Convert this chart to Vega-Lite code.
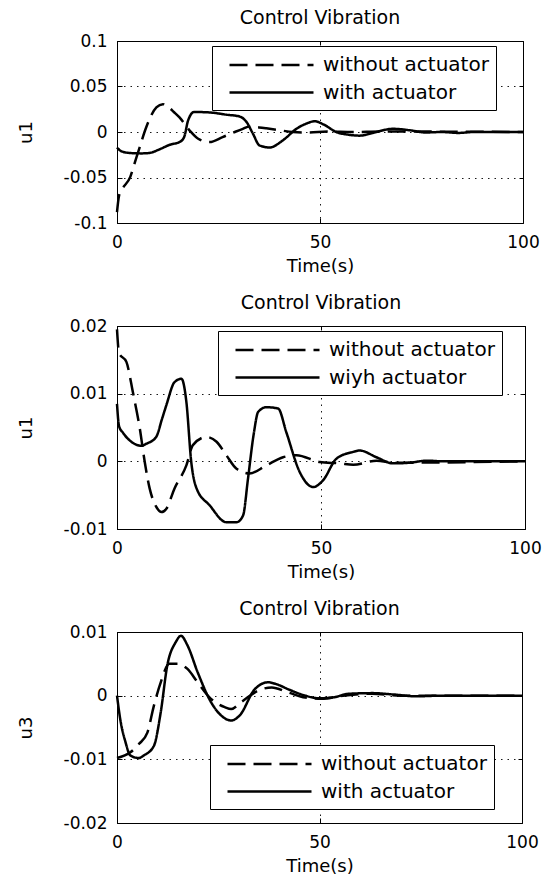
{
  "$schema": "https://vega.github.io/schema/vega-lite/v6.json",
  "background": "white",
  "padding": {"left": 16, "top": 8, "right": 20, "bottom": 5},
  "spacing": 17,
  "datasets": {
    "p1": [
      {"t": 0, "u": -0.017, "s": "with actuator"},
      {"t": 1, "u": -0.021, "s": "with actuator"},
      {"t": 3, "u": -0.023, "s": "with actuator"},
      {"t": 6, "u": -0.0235, "s": "with actuator"},
      {"t": 8, "u": -0.023, "s": "with actuator"},
      {"t": 10.5, "u": -0.019, "s": "with actuator"},
      {"t": 13, "u": -0.014, "s": "with actuator"},
      {"t": 15.4, "u": -0.011, "s": "with actuator"},
      {"t": 16.5, "u": -0.006, "s": "with actuator"},
      {"t": 17.5, "u": 0.0125, "s": "with actuator"},
      {"t": 19, "u": 0.022, "s": "with actuator"},
      {"t": 22.8, "u": 0.0215, "s": "with actuator"},
      {"t": 27, "u": 0.019, "s": "with actuator"},
      {"t": 30.2, "u": 0.017, "s": "with actuator"},
      {"t": 31.9, "u": 0.011, "s": "with actuator"},
      {"t": 33.5, "u": -0.002, "s": "with actuator"},
      {"t": 35.1, "u": -0.0147, "s": "with actuator"},
      {"t": 37.6, "u": -0.017, "s": "with actuator"},
      {"t": 40.9, "u": -0.009, "s": "with actuator"},
      {"t": 44.2, "u": 0.0035, "s": "with actuator"},
      {"t": 46.5, "u": 0.009, "s": "with actuator"},
      {"t": 48.7, "u": 0.0118, "s": "with actuator"},
      {"t": 51, "u": 0.008, "s": "with actuator"},
      {"t": 54, "u": 0.0, "s": "with actuator"},
      {"t": 57, "u": -0.003, "s": "with actuator"},
      {"t": 59.8, "u": -0.004, "s": "with actuator"},
      {"t": 63, "u": -0.001, "s": "with actuator"},
      {"t": 68, "u": 0.0035, "s": "with actuator"},
      {"t": 72, "u": 0.002, "s": "with actuator"},
      {"t": 76, "u": -0.0005, "s": "with actuator"},
      {"t": 80, "u": 0, "s": "with actuator"},
      {"t": 84, "u": -0.001, "s": "with actuator"},
      {"t": 88, "u": 0, "s": "with actuator"},
      {"t": 100, "u": 0, "s": "with actuator"},
      {"t": 0, "u": -0.088, "s": "without actuator"},
      {"t": 0.5, "u": -0.07, "s": "without actuator"},
      {"t": 1.1, "u": -0.064, "s": "without actuator"},
      {"t": 3.3, "u": -0.049, "s": "without actuator"},
      {"t": 4.5, "u": -0.032, "s": "without actuator"},
      {"t": 5.6, "u": -0.0165, "s": "without actuator"},
      {"t": 7.2, "u": 0.0052, "s": "without actuator"},
      {"t": 9.7, "u": 0.027, "s": "without actuator"},
      {"t": 11.3, "u": 0.0306, "s": "without actuator"},
      {"t": 12.5, "u": 0.028, "s": "without actuator"},
      {"t": 14, "u": 0.022, "s": "without actuator"},
      {"t": 15.4, "u": 0.016, "s": "without actuator"},
      {"t": 17.9, "u": 0.0016, "s": "without actuator"},
      {"t": 20, "u": -0.0074, "s": "without actuator"},
      {"t": 22.8, "u": -0.011, "s": "without actuator"},
      {"t": 26, "u": -0.0056, "s": "without actuator"},
      {"t": 29, "u": 0.0, "s": "without actuator"},
      {"t": 31, "u": 0.0035, "s": "without actuator"},
      {"t": 32.6, "u": 0.006, "s": "without actuator"},
      {"t": 35, "u": 0.005, "s": "without actuator"},
      {"t": 36.8, "u": 0.004, "s": "without actuator"},
      {"t": 40, "u": 0.002, "s": "without actuator"},
      {"t": 43.3, "u": 0.0, "s": "without actuator"},
      {"t": 47, "u": -0.0005, "s": "without actuator"},
      {"t": 52, "u": 0.0005, "s": "without actuator"},
      {"t": 58, "u": 0.0, "s": "without actuator"},
      {"t": 65, "u": 0.0005, "s": "without actuator"},
      {"t": 100, "u": 0, "s": "without actuator"}
    ],
    "p2": [
      {"t": 0, "u": 0.0085, "s": "wiyh actuator"},
      {"t": 0.5, "u": 0.0052, "s": "wiyh actuator"},
      {"t": 1.5, "u": 0.0042, "s": "wiyh actuator"},
      {"t": 3.1, "u": 0.0031, "s": "wiyh actuator"},
      {"t": 6, "u": 0.0023, "s": "wiyh actuator"},
      {"t": 7.2, "u": 0.0026, "s": "wiyh actuator"},
      {"t": 9.6, "u": 0.0036, "s": "wiyh actuator"},
      {"t": 11, "u": 0.0062, "s": "wiyh actuator"},
      {"t": 12.1, "u": 0.0083, "s": "wiyh actuator"},
      {"t": 14.1, "u": 0.0117, "s": "wiyh actuator"},
      {"t": 15.8, "u": 0.0122, "s": "wiyh actuator"},
      {"t": 17, "u": 0.0088, "s": "wiyh actuator"},
      {"t": 18.2, "u": -0.0001, "s": "wiyh actuator"},
      {"t": 19.5, "u": -0.004, "s": "wiyh actuator"},
      {"t": 22.7, "u": -0.0065, "s": "wiyh actuator"},
      {"t": 26.8, "u": -0.009, "s": "wiyh actuator"},
      {"t": 29.3, "u": -0.009, "s": "wiyh actuator"},
      {"t": 30.9, "u": -0.008, "s": "wiyh actuator"},
      {"t": 32.1, "u": -0.0026, "s": "wiyh actuator"},
      {"t": 33.5, "u": 0.004, "s": "wiyh actuator"},
      {"t": 34.6, "u": 0.0073, "s": "wiyh actuator"},
      {"t": 36.6, "u": 0.008, "s": "wiyh actuator"},
      {"t": 39.5, "u": 0.0078, "s": "wiyh actuator"},
      {"t": 41.5, "u": 0.0043, "s": "wiyh actuator"},
      {"t": 44.8, "u": -0.0016, "s": "wiyh actuator"},
      {"t": 48.1, "u": -0.0038, "s": "wiyh actuator"},
      {"t": 50.5, "u": -0.0028, "s": "wiyh actuator"},
      {"t": 53.8, "u": 0.0004, "s": "wiyh actuator"},
      {"t": 57.9, "u": 0.0014, "s": "wiyh actuator"},
      {"t": 59.5, "u": 0.0016, "s": "wiyh actuator"},
      {"t": 63.6, "u": 0.0006, "s": "wiyh actuator"},
      {"t": 67.7, "u": -0.0003, "s": "wiyh actuator"},
      {"t": 71.8, "u": -0.0002, "s": "wiyh actuator"},
      {"t": 75.9, "u": 0.0001, "s": "wiyh actuator"},
      {"t": 80, "u": 0, "s": "wiyh actuator"},
      {"t": 100, "u": 0, "s": "wiyh actuator"},
      {"t": 0, "u": 0.0195, "s": "without actuator"},
      {"t": 0.5, "u": 0.016, "s": "without actuator"},
      {"t": 2.3, "u": 0.0147, "s": "without actuator"},
      {"t": 3.9, "u": 0.0102, "s": "without actuator"},
      {"t": 5.6, "u": 0.0048, "s": "without actuator"},
      {"t": 6.8, "u": -0.0001, "s": "without actuator"},
      {"t": 8, "u": -0.004, "s": "without actuator"},
      {"t": 9.6, "u": -0.0067, "s": "without actuator"},
      {"t": 10.9, "u": -0.0075, "s": "without actuator"},
      {"t": 12.1, "u": -0.007, "s": "without actuator"},
      {"t": 14.1, "u": -0.004, "s": "without actuator"},
      {"t": 17, "u": -0.0006, "s": "without actuator"},
      {"t": 18.6, "u": 0.0024, "s": "without actuator"},
      {"t": 21.9, "u": 0.0036, "s": "without actuator"},
      {"t": 24.4, "u": 0.0029, "s": "without actuator"},
      {"t": 26.8, "u": 0.0009, "s": "without actuator"},
      {"t": 29.3, "u": -0.0011, "s": "without actuator"},
      {"t": 32.5, "u": -0.0018, "s": "without actuator"},
      {"t": 36.6, "u": -0.0006, "s": "without actuator"},
      {"t": 40.7, "u": 0.0006, "s": "without actuator"},
      {"t": 44, "u": 0.0009, "s": "without actuator"},
      {"t": 49.7, "u": -0.0001, "s": "without actuator"},
      {"t": 54.6, "u": -0.0003, "s": "without actuator"},
      {"t": 57.9, "u": -0.0005, "s": "without actuator"},
      {"t": 63.6, "u": 0.0001, "s": "without actuator"},
      {"t": 68, "u": -0.0002, "s": "without actuator"},
      {"t": 100, "u": 0, "s": "without actuator"}
    ],
    "p3": [
      {"t": 0, "u": 0, "s": "with actuator"},
      {"t": 0.8, "u": -0.0037, "s": "with actuator"},
      {"t": 2.1, "u": -0.0073, "s": "with actuator"},
      {"t": 3.3, "u": -0.0094, "s": "with actuator"},
      {"t": 5.4, "u": -0.0098, "s": "with actuator"},
      {"t": 6.6, "u": -0.0094, "s": "with actuator"},
      {"t": 9.1, "u": -0.0079, "s": "with actuator"},
      {"t": 10.8, "u": -0.0026, "s": "with actuator"},
      {"t": 12.4, "u": 0.0047, "s": "with actuator"},
      {"t": 14.5, "u": 0.0084, "s": "with actuator"},
      {"t": 15.8, "u": 0.0094, "s": "with actuator"},
      {"t": 17.4, "u": 0.0079, "s": "with actuator"},
      {"t": 19.9, "u": 0.0037, "s": "with actuator"},
      {"t": 23.2, "u": -0.001, "s": "with actuator"},
      {"t": 25.7, "u": -0.0031, "s": "with actuator"},
      {"t": 28.2, "u": -0.0039, "s": "with actuator"},
      {"t": 30.3, "u": -0.0031, "s": "with actuator"},
      {"t": 34, "u": 0.001, "s": "with actuator"},
      {"t": 37.3, "u": 0.0021, "s": "with actuator"},
      {"t": 39.4, "u": 0.0018, "s": "with actuator"},
      {"t": 42.3, "u": 0.001, "s": "with actuator"},
      {"t": 46.5, "u": 0, "s": "with actuator"},
      {"t": 49.8, "u": -0.0004, "s": "with actuator"},
      {"t": 53.1, "u": -0.0003, "s": "with actuator"},
      {"t": 57.3, "u": 0.0003, "s": "with actuator"},
      {"t": 63.1, "u": 0.0004, "s": "with actuator"},
      {"t": 68, "u": 0.0002, "s": "with actuator"},
      {"t": 73.9, "u": -0.0001, "s": "with actuator"},
      {"t": 80, "u": 0, "s": "with actuator"},
      {"t": 100, "u": 0, "s": "with actuator"},
      {"t": 0, "u": -0.0098, "s": "without actuator"},
      {"t": 3.3, "u": -0.0089, "s": "without actuator"},
      {"t": 5.4, "u": -0.0076, "s": "without actuator"},
      {"t": 7.5, "u": -0.0058, "s": "without actuator"},
      {"t": 9.1, "u": -0.0016, "s": "without actuator"},
      {"t": 10.8, "u": 0.0021, "s": "without actuator"},
      {"t": 12.9, "u": 0.005, "s": "without actuator"},
      {"t": 15, "u": 0.005, "s": "without actuator"},
      {"t": 17.4, "u": 0.0042, "s": "without actuator"},
      {"t": 19.9, "u": 0.0021, "s": "without actuator"},
      {"t": 23.2, "u": -0.0005, "s": "without actuator"},
      {"t": 26.6, "u": -0.0018, "s": "without actuator"},
      {"t": 28.2, "u": -0.0021, "s": "without actuator"},
      {"t": 30.7, "u": -0.001, "s": "without actuator"},
      {"t": 34.9, "u": 0.0008, "s": "without actuator"},
      {"t": 38.2, "u": 0.0013, "s": "without actuator"},
      {"t": 42.3, "u": 0.0005, "s": "without actuator"},
      {"t": 46.5, "u": -0.0003, "s": "without actuator"},
      {"t": 50.6, "u": -0.0005, "s": "without actuator"},
      {"t": 54.8, "u": -0.0001, "s": "without actuator"},
      {"t": 63, "u": 0.0003, "s": "without actuator"},
      {"t": 70, "u": 0, "s": "without actuator"},
      {"t": 100, "u": 0, "s": "without actuator"}
    ]
  },
  "resolve": {"scale": {"strokeDash": "independent"}, "legend": {"strokeDash": "independent"}},
  "config": {
    "font": "DejaVu Sans",
    "view": {"stroke": "black", "strokeWidth": 1},
    "axis": {
      "domain": false, "grid": true, "gridColor": "black", "gridDash": [1.5, 5], "gridWidth": 1, "gridOpacity": 0.9,
      "ticks": true, "tickColor": "black", "tickSize": -5,
      "labelFont": "DejaVu Sans", "labelFontSize": 17, "labelColor": "black",
      "titleFont": "DejaVu Sans", "titleFontSize": 18, "titleFontWeight": "normal", "titleColor": "black",
      "labelFlush": false, "labelOverlap": false, "labelBound": false
    },
    "axisX": {"labelPadding": 16, "titlePadding": 7},
    "axisY": {"labelPadding": 15},
    "title": {"font": "DejaVu Sans", "fontSize": 19, "fontWeight": "normal", "color": "black", "offset": 4},
    "legend": {
      "strokeColor": "black", "fillColor": "white", "padding": 7, "cornerRadius": 0,
      "symbolType": "M-4,0H4", "symbolSize": 441, "symbolStrokeWidth": 2.5, "symbolStrokeColor": "black",
      "symbolOffset": 40.5, "labelOffset": 39.5,
      "labelFont": "DejaVu Sans", "labelFontSize": 20, "labelColor": "black", "labelLimit": 400,
      "rowPadding": 5.5
    }
  },
  "vconcat": [
    {
      "width": 406, "height": 182,
      "title": "Control Vibration",
      "data": {"name": "p1"},
      "layer": [
        {
          "mark": {"type": "line", "interpolate": "monotone", "strokeWidth": 2.5, "color": "black"},
          "encoding": {
            "x": {"field": "t", "type": "quantitative", "scale": {"domain": [0, 100], "nice": false}, "axis": {"values": [0, 50, 100], "title": "Time(s)"}},
            "y": {"field": "u", "type": "quantitative", "scale": {"domain": [-0.1, 0.1], "nice": false}, "axis": {"values": [-0.1, -0.05, 0, 0.05, 0.1], "labelExpr": "toString(datum.value)", "title": "u1", "titleX": -82}},
            "strokeDash": {"field": "s", "type": "nominal", "scale": {"domain": ["without actuator", "with actuator"], "range": [[18, 8], [1, 0]]}, "legend": {"title": null, "orient": "none", "legendX": 95, "legendY": 5}}
          }
        },
        {
          "mark": {"type": "line", "opacity": 0},
          "encoding": {
            "x": {"field": "t", "type": "quantitative", "scale": {"domain": [0, 100], "nice": false}, "axis": {"orient": "top", "values": [0, 50, 100], "labels": false, "title": null, "grid": false, "tickSize": -4}},
            "y": {"field": "u", "type": "quantitative", "scale": {"domain": [-0.1, 0.1], "nice": false}, "axis": {"orient": "right", "values": [-0.1, -0.05, 0, 0.05, 0.1], "labels": false, "title": null, "grid": false, "tickSize": -4}},
            "detail": {"field": "s"}
          }
        }
      ],
      "resolve": {"axis": {"x": "independent", "y": "independent"}}
    },
    {
      "width": 408, "height": 203,
      "title": "Control Vibration",
      "data": {"name": "p2"},
      "layer": [
        {
          "mark": {"type": "line", "interpolate": "monotone", "strokeWidth": 2.5, "color": "black"},
          "encoding": {
            "x": {"field": "t", "type": "quantitative", "scale": {"domain": [0, 100], "nice": false}, "axis": {"values": [0, 50, 100], "title": "Time(s)"}},
            "y": {"field": "u", "type": "quantitative", "scale": {"domain": [-0.01, 0.02], "nice": false}, "axis": {"values": [-0.01, 0, 0.01, 0.02], "labelExpr": "toString(datum.value)", "title": "u1", "titleX": -82}},
            "strokeDash": {"field": "s", "type": "nominal", "scale": {"domain": ["without actuator", "wiyh actuator"], "range": [[18, 8], [1, 0]]}, "legend": {"title": null, "orient": "none", "legendX": 101, "legendY": 5}}
          }
        },
        {
          "mark": {"type": "line", "opacity": 0},
          "encoding": {
            "x": {"field": "t", "type": "quantitative", "scale": {"domain": [0, 100], "nice": false}, "axis": {"orient": "top", "values": [0, 50, 100], "labels": false, "title": null, "grid": false, "tickSize": -4}},
            "y": {"field": "u", "type": "quantitative", "scale": {"domain": [-0.01, 0.02], "nice": false}, "axis": {"orient": "right", "values": [-0.01, 0, 0.01, 0.02], "labels": false, "title": null, "grid": false, "tickSize": -4}},
            "detail": {"field": "s"}
          }
        }
      ],
      "resolve": {"axis": {"x": "independent", "y": "independent"}}
    },
    {
      "width": 405, "height": 191,
      "title": "Control Vibration",
      "data": {"name": "p3"},
      "layer": [
        {
          "mark": {"type": "line", "interpolate": "monotone", "strokeWidth": 2.5, "color": "black"},
          "encoding": {
            "x": {"field": "t", "type": "quantitative", "scale": {"domain": [0, 100], "nice": false}, "axis": {"values": [0, 50, 100], "title": "Time(s)"}},
            "y": {"field": "u", "type": "quantitative", "scale": {"domain": [-0.02, 0.01], "nice": false}, "axis": {"values": [-0.02, -0.01, 0, 0.01], "labelExpr": "toString(datum.value)", "title": "u3", "titleX": -82}},
            "strokeDash": {"field": "s", "type": "nominal", "scale": {"domain": ["without actuator", "with actuator"], "range": [[18, 8], [1, 0]]}, "legend": {"title": null, "orient": "none", "legendX": 93, "legendY": 113}}
          }
        },
        {
          "mark": {"type": "line", "opacity": 0},
          "encoding": {
            "x": {"field": "t", "type": "quantitative", "scale": {"domain": [0, 100], "nice": false}, "axis": {"orient": "top", "values": [0, 50, 100], "labels": false, "title": null, "grid": false, "tickSize": -4}},
            "y": {"field": "u", "type": "quantitative", "scale": {"domain": [-0.02, 0.01], "nice": false}, "axis": {"orient": "right", "values": [-0.02, -0.01, 0, 0.01], "labels": false, "title": null, "grid": false, "tickSize": -4}},
            "detail": {"field": "s"}
          }
        }
      ],
      "resolve": {"axis": {"x": "independent", "y": "independent"}}
    }
  ]
}
